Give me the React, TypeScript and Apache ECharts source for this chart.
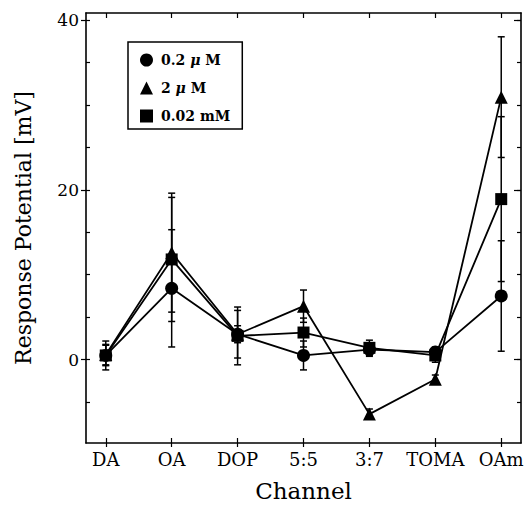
import React, { useEffect, useRef } from "react";
import * as echarts from "echarts";

const categories = ["DA", "OA", "DOP", "5:5", "3:7", "TOMA", "OAm"];
const seriesNames = ["0.2 μ M", "2 μ M", "0.02 mM"];
const circleVals = [0.5, 8.4, 3.0, 0.5, 1.2, 0.9, 7.5];
const circleErr = [1.2, 6.9, 2.8, 1.7, 0.8, 0.6, 6.5];
const triangleVals = [0.6, 12.6, 3.0, 6.3, -6.4, -2.3, 30.9];
const triangleErr = [1.2, 7.0, 1.0, 1.9, 0.6, 0.5, 7.1];
const squareVals = [0.5, 11.8, 2.8, 3.2, 1.4, 0.5, 18.9];
const squareErr = [1.7, 7.3, 3.4, 1.7, 0.9, 0.8, 9.7];
const yLabelTicks = [0, 20, 40];
const yMinorTicks = [-5, 0, 5, 10, 15, 20, 25, 30, 35, 40];

const FONT = "DejaVu Serif";

export default function App() {
  const ref = useRef<HTMLDivElement>(null);
  useEffect(() => {
    document.body.style.margin = "0";
    const chart = echarts.init(ref.current!, null, { renderer: "svg" });
    const idx = categories.map((_, i) => i);
    const toPts = (vals: number[]) => vals.map((v, i) => [i, v]);
    const toErr = (vals: number[], errs: number[]) =>
      vals.map((v, i) => [i, v - errs[i], v + errs[i]]);
    const errData = [
      ...toErr(circleVals, circleErr),
      ...toErr(triangleVals, triangleErr),
      ...toErr(squareVals, squareErr),
    ];
    const symbols = ["circle", "triangle", "rect"];
    const valsList = [circleVals, triangleVals, squareVals];

    const black = "#000";
    const xBase = { type: "value", min: -0.3, max: 6.3, gridIndex: 0, splitLine: { show: false } };
    const yBase = { type: "value", min: -9.8, max: 40.8, gridIndex: 0, splitLine: { show: false } };
    const lineOn = { show: true, onZero: false, lineStyle: { color: black, width: 1.6 } };
    const lineOff = { show: false, onZero: false };
    const tickStyle = { color: black, width: 1.2 };

    chart.setOption({
      animation: false,
      backgroundColor: "#fff",
      grid: { left: 86, right: 11, top: 13, bottom: 68, containLabel: false, outerBoundsMode: "none" },
      legend: {
        orient: "vertical",
        left: 128,
        top: 42,
        padding: [11, 12, 6, 12],
        itemGap: 14,
        itemWidth: 13,
        itemHeight: 13,
        borderColor: black,
        borderWidth: 1.5,
        backgroundColor: "#fff",
        data: seriesNames.map((n, i) => ({ name: n, icon: symbols[i] })),
        formatter: (name: string) => name.replace("μ", "{i|μ}"),
        textStyle: {
          fontFamily: FONT,
          fontSize: 14,
          fontWeight: "bold",
          color: black,
          padding: [0, 0, 0, 3],
          rich: { i: { fontFamily: FONT, fontSize: 14, fontStyle: "italic", color: black } },
        },
      },
      xAxis: [
        {
          ...xBase,
          position: "bottom",
          name: "Channel",
          nameLocation: "middle",
          nameGap: 36,
          nameTextStyle: { fontFamily: FONT, fontSize: 23, color: black },
          axisLine: lineOn,
          axisTick: { show: true, inside: false, length: 4, customValues: idx, lineStyle: tickStyle },
          axisLabel: {
            show: true,
            customValues: idx,
            margin: 7,
            fontFamily: FONT,
            fontSize: 18,
            color: black,
            formatter: (v: number) => categories[Math.round(v)] ?? "",
          },
        },
        {
          ...xBase,
          position: "bottom",
          axisLine: lineOff,
          axisTick: { show: true, inside: true, length: 5, customValues: idx, lineStyle: tickStyle },
          axisLabel: { show: false },
        },
        {
          ...xBase,
          position: "top",
          axisLine: lineOn,
          axisTick: { show: true, inside: true, length: 5, customValues: idx, lineStyle: tickStyle },
          axisLabel: { show: false },
        },
      ],
      yAxis: [
        {
          ...yBase,
          position: "left",
          name: "Response Potential [mV]",
          nameLocation: "middle",
          nameGap: 52,
          nameTextStyle: { fontFamily: FONT, fontSize: 22, color: black },
          axisLine: lineOn,
          axisTick: { show: true, inside: false, length: 5, customValues: yLabelTicks, lineStyle: tickStyle },
          axisLabel: {
            show: true,
            customValues: yLabelTicks,
            margin: 7,
            fontFamily: FONT,
            fontSize: 17,
            color: black,
          },
        },
        {
          ...yBase,
          position: "left",
          axisLine: lineOff,
          axisTick: { show: true, inside: true, length: 4, customValues: yMinorTicks, lineStyle: tickStyle },
          axisLabel: { show: false },
        },
        {
          ...yBase,
          position: "right",
          axisLine: lineOn,
          axisTick: { show: true, inside: true, length: 4, customValues: yMinorTicks, lineStyle: tickStyle },
          axisLabel: { show: false },
        },
        {
          ...yBase,
          position: "right",
          axisLine: lineOff,
          axisTick: { show: true, inside: true, length: 7, customValues: yLabelTicks, lineStyle: tickStyle },
          axisLabel: { show: false },
        },
      ],
      series: [
        {
          type: "custom",
          name: "errors",
          xAxisIndex: 0,
          yAxisIndex: 0,
          silent: true,
          data: errData,
          encode: { x: 0, y: [1, 2] },
          renderItem: (params: any, api: any) => {
            const x = api.value(0);
            const lo = api.coord([x, api.value(1)]);
            const hi = api.coord([x, api.value(2)]);
            const hw = 3.5;
            const style = { stroke: black, lineWidth: 1.5 };
            return {
              type: "group",
              children: [
                { type: "line", shape: { x1: lo[0], y1: lo[1], x2: hi[0], y2: hi[1] }, style },
                { type: "line", shape: { x1: lo[0] - hw, y1: lo[1], x2: lo[0] + hw, y2: lo[1] }, style },
                { type: "line", shape: { x1: hi[0] - hw, y1: hi[1], x2: hi[0] + hw, y2: hi[1] }, style },
              ],
            };
          },
        },
        ...seriesNames.map((n, i) => ({
          type: "line",
          name: n,
          xAxisIndex: 0,
          yAxisIndex: 0,
          data: toPts(valsList[i]),
          symbol: symbols[i],
          symbolSize: i === 2 ? 12 : 13,
          showSymbol: true,
          itemStyle: { color: black, borderWidth: 0 },
          lineStyle: { color: black, width: 1.8 },
          z: 3,
        })),
      ],
    });
    return () => chart.dispose();
  }, []);
  return <div ref={ref} style={{ width: 532, height: 511 }} />;
}
